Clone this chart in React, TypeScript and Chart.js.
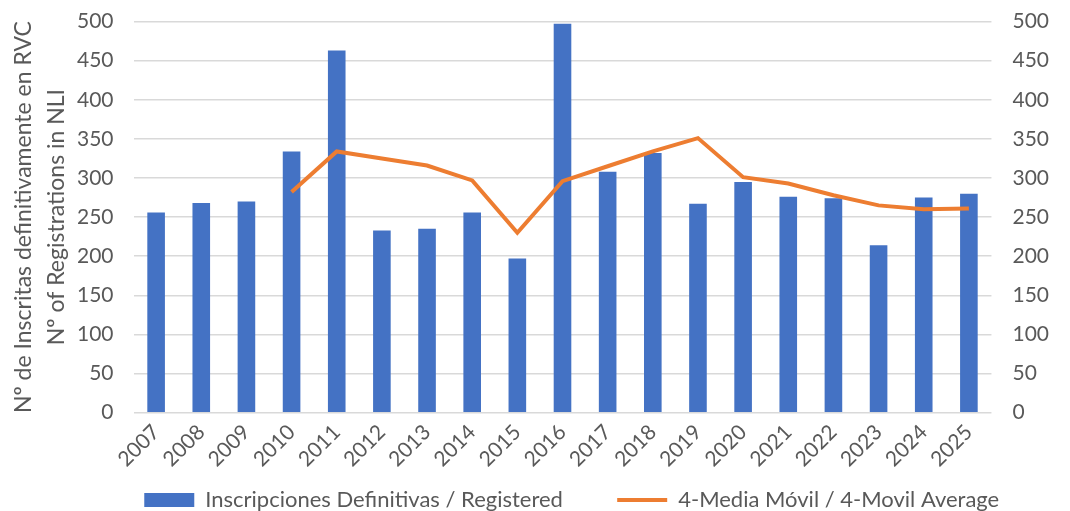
import React, { useEffect, useRef } from "react";
import { Chart, registerables } from "chart.js";

Chart.register(...registerables);

const years = ["2007","2008","2009","2010","2011","2012","2013","2014","2015","2016","2017","2018","2019","2020","2021","2022","2023","2024","2025"];
const registered = [256, 268, 270, 334, 463, 233, 235, 256, 197, 497, 308, 332, 267, 295, 276, 274, 214, 275, 280];
const movingAvg = [null, null, null, 282, 334, 325, 316, 297, 230, 296, 315, 334, 351, 301, 293, 278, 265, 260, 261];
const barLabel = "Inscripciones Definitivas / Registered";
const lineLabel = "4-Media Móvil / 4-Movil Average";
const yTitle = ["Nº de Inscritas definitivamente en RVC", "Nº of Registrations in NLI"];

const FONT = "Lato, 'Open Sans', sans-serif";
const GREY = "#595959";
const BLUE = "#4472C4";
const ORANGE = "#ED7D31";
const GAP1 = "\u2003\u2003  ";
const GAP2 = "\u2003\u2003\u2003  ";

export default function App() {
  const ref = useRef<HTMLCanvasElement | null>(null);
  useEffect(() => {
    if (!ref.current) return;
    const chart = new Chart(ref.current, {
      data: {
        labels: years,
        datasets: [
          {
            type: "bar",
            label: barLabel,
            data: registered,
            backgroundColor: BLUE,
            borderWidth: 0,
            barPercentage: 0.39,
            categoryPercentage: 1,
            yAxisID: "y",
            order: 1,
          },
          {
            type: "line",
            label: lineLabel,
            data: movingAvg,
            borderColor: ORANGE,
            backgroundColor: ORANGE,
            borderWidth: 4,
            pointRadius: 0,
            tension: 0,
            yAxisID: "y1",
            order: 0,
          },
        ],
      } as any,
      options: {
        animation: false,
        responsive: true,
        maintainAspectRatio: false,
        layout: { padding: { left: 0, right: 0, top: 0, bottom: -10 } },
        plugins: {
          tooltip: { enabled: false },
          legend: {
            position: "bottom",
            align: "end",
            labels: {
              usePointStyle: true,
              pointStyleWidth: 50,
              boxHeight: 14,
              padding: 10,
              color: GREY,
              font: { family: FONT, size: 22 },
              generateLabels: (c: any) =>
                c.data.datasets.map((ds: any, i: number) => ({
                  text: ds.label + (i === 0 ? GAP1 : GAP2),
                  fillStyle: ds.type === "bar" ? BLUE : "transparent",
                  strokeStyle: ds.type === "bar" ? BLUE : ORANGE,
                  lineWidth: ds.type === "bar" ? 0 : 4,
                  pointStyle: ds.type === "bar" ? "rect" : "line",
                  fontColor: GREY,
                  hidden: false,
                  datasetIndex: i,
                })),
            },
          },
        },
        scales: {
          x: {
            grid: { display: false, drawTicks: false },
            border: { display: false },
            ticks: {
              color: GREY,
              font: { family: FONT, size: 21 },
              minRotation: 45,
              maxRotation: 45,
              padding: 7,
            },
          },
          y: {
            position: "left",
            min: 0,
            max: 500,
            ticks: { stepSize: 50, color: GREY, font: { family: FONT, size: 21, lineHeight: 0.05 }, padding: 20 },
            grid: { color: "#d9d9d9", lineWidth: 1.5, drawTicks: false },
            border: { display: false },
            title: {
              display: true,
              text: yTitle,
              color: GREY,
              font: { family: FONT, size: 23, lineHeight: 1.4 },
              padding: { top: 7.9, bottom: -15.3 },
            },
          },
          y1: {
            position: "right",
            min: 0,
            max: 500,
            ticks: { stepSize: 50, color: GREY, font: { family: FONT, size: 21, lineHeight: 0.05 }, padding: 21 },
            grid: { display: false, drawTicks: false },
            border: { display: false },
          },
        },
      },
    });
    return () => chart.destroy();
  }, []);
  return (
    <div style={{ position: "fixed", left: 0, top: 0, width: 1070, height: 511, background: "#fff" }}>
      <canvas ref={ref} />
    </div>
  );
}
